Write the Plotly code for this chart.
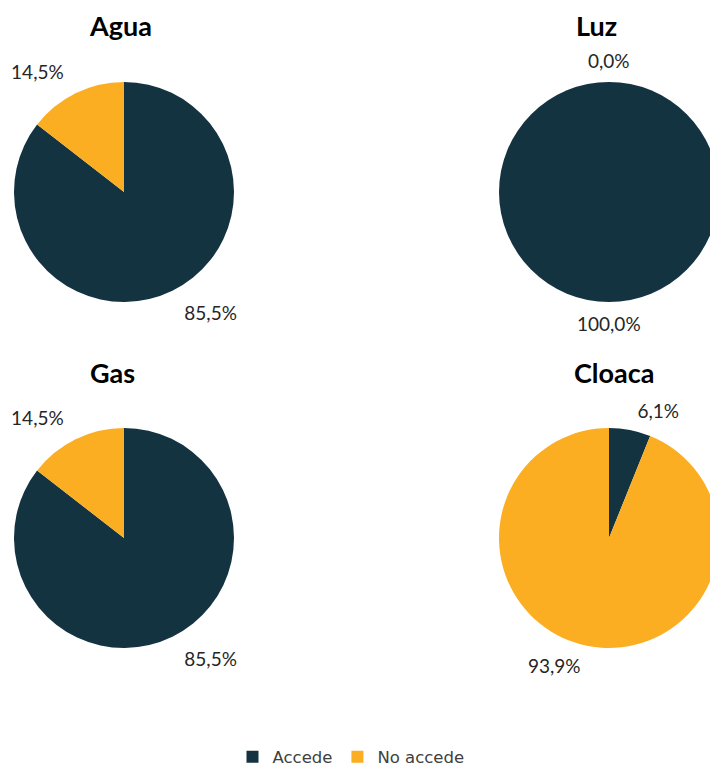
import math
import plotly.graph_objects as go

categories = ["Accede", "No accede"]
services = ["Agua", "Luz", "Gas", "Cloaca"]
agua = [85.5, 14.5]
luz = [100.0, 0.0]
gas = [85.5, 14.5]
cloaca = [6.1, 93.9]
colors = ["#143341", "#FBAE21"]

W, H = 740, 769

def dom(cx, cy, r):
    return dict(x=[(cx - r) / W, (cx + r) / W],
                y=[(H - (cy + r)) / H, (H - (cy - r)) / H])

# pie centre x, centre y, radius, label radius
geom = [(124, 192, 110, 124), (609, 192, 110, 132),
        (124, 538, 110, 124), (609, 538, 110, 119)]
series = [agua, luz, gas, cloaca]
label_font = dict(family="Lato", size=19, color="#262626")

fig = go.Figure()
for i, (name, vals, g) in enumerate(zip(services, series, geom)):
    cx, cy, r, rl = g
    fig.add_trace(go.Pie(
        labels=categories, values=vals, sort=False, direction="clockwise",
        rotation=0, marker=dict(colors=colors, line=dict(width=0)),
        textinfo="none", domain=dom(cx, cy, r), showlegend=(i == 0),
        hoverinfo="label+percent", name=name,
    ))

for i, (name, vals, g) in enumerate(zip(services, series, geom)):
    cx, cy, r, rl = g
    total = sum(vals)
    if min(vals) == 0:
        # slices sitting exactly on the vertical axis: labels centred above / below
        cum = 0.0
        for v in vals:
            theta = 2 * math.pi * (cum + v / 2) / total
            cum += v
            px = cx + rl * math.sin(theta)
            py = cy - rl * math.cos(theta)
            fig.add_annotation(text=("%.1f%%" % (100 * v / total)).replace(".", ","),
                               x=px / W, y=1 - py / H, xref="paper", yref="paper",
                               showarrow=False, font=label_font,
                               xanchor="center", yanchor="middle")
        continue
    fig.add_trace(go.Pie(
        labels=categories, values=vals, sort=False, direction="clockwise",
        rotation=0, marker=dict(colors=["rgba(0,0,0,0)"] * 2, line=dict(width=0)),
        textposition="outside", texttemplate="%{percent:.1%}",
        textfont=label_font,
        domain=dom(cx, cy, rl), showlegend=False, hoverinfo="skip", name=name,
    ))

titles_pos = [(120, 26), (596, 26), (112, 372), (614, 372)]
for name, (x, y) in zip(services, titles_pos):
    fig.add_annotation(text="<b>%s</b>" % name, x=x / W, y=1 - y / H, xref="paper", yref="paper",
                       showarrow=False, font=dict(family="Lato", size=27, color="#000000"),
                       xanchor="center", yanchor="middle")

fig.update_layout(
    width=W, height=H, margin=dict(l=0, r=0, t=0, b=0, autoexpand=False),
    paper_bgcolor="white", plot_bgcolor="white", separators=",.",
    legend=dict(orientation="h", x=351 / W, xanchor="center", y=1 - 757 / H, yanchor="middle",
                font=dict(family="DejaVu Sans", size=16.5, color="#404040"),
                itemwidth=30),
)
fig.write_html("out.html", config={"displayModeBar": False},
               post_script="document.body.style.margin='0';document.body.style.overflow='hidden';")
